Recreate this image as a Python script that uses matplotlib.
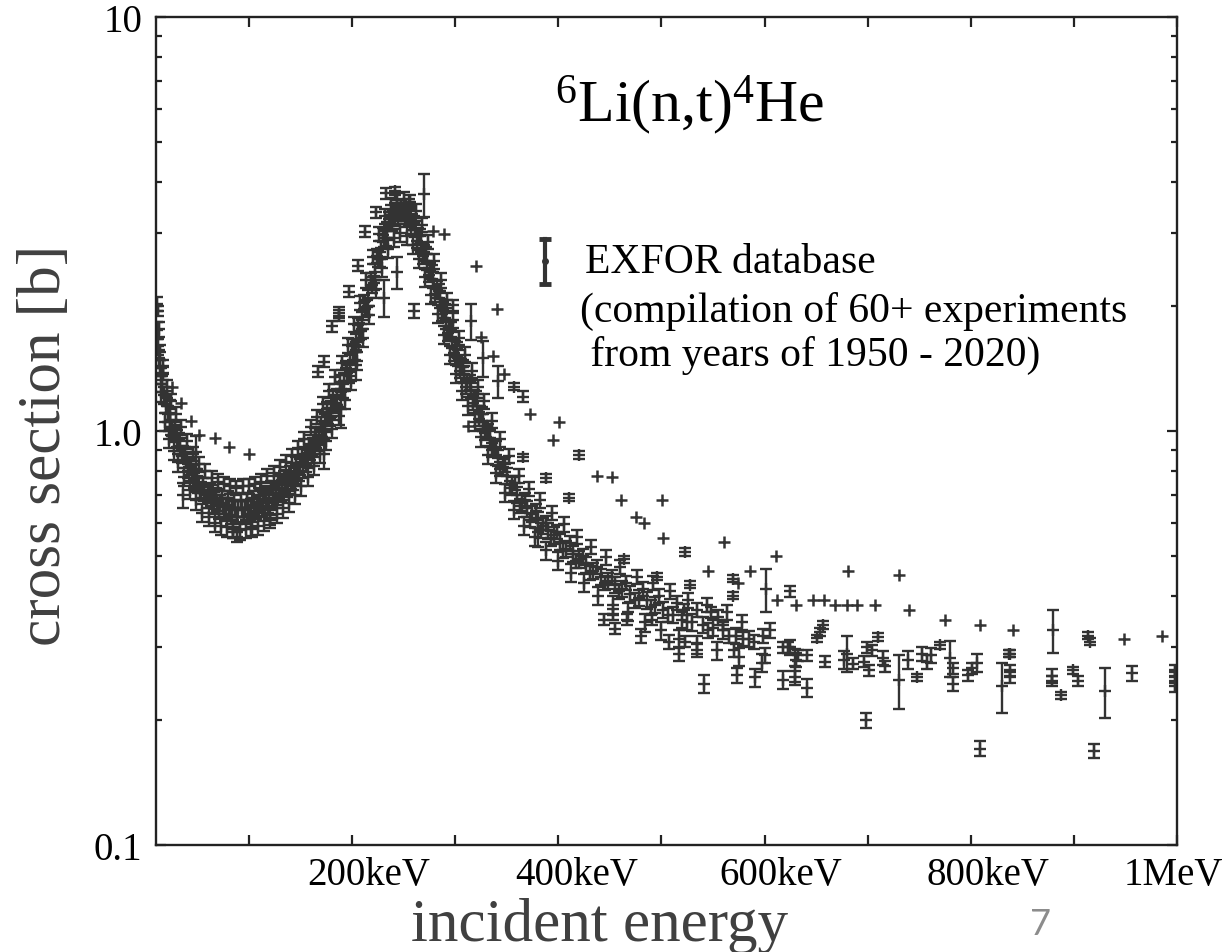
import numpy as np
import matplotlib
matplotlib.use('Agg')
import matplotlib.pyplot as plt
import matplotlib.transforms as mtrans
from matplotlib.ticker import FixedLocator, NullFormatter, LogLocator

plt.rcParams['font.family'] = ['Liberation Serif', 'DejaVu Serif']
plt.rcParams['mathtext.fontset'] = 'custom'
plt.rcParams['mathtext.rm'] = 'Liberation Serif'
plt.rcParams['mathtext.it'] = 'Liberation Serif:italic'
plt.rcParams['mathtext.bf'] = 'Liberation Serif:bold'

# ---- data: energy [keV], cross section [b] ----
# dense band, four groups of experiments
a_e = [11, 12, 13, 14, 15, 16,
       18, 20, 22, 24, 26, 28, 30,
       33, 36, 39, 42, 45, 48, 51, 54, 57, 60,
       63, 66, 69, 72, 75, 78, 81, 84, 87, 90,
       93, 96, 99, 102, 105, 108, 111, 114, 117, 120,
       123, 126, 129, 132, 135, 138, 141, 144, 147, 150,
       153, 156, 159, 162, 165, 168, 171, 174, 177, 180,
       183, 186, 189, 192, 195, 198, 201, 204, 207, 210,
       213, 216, 219, 222, 225, 228, 231, 234, 237, 240,
       243, 246, 249, 252, 255, 258, 261, 264, 267, 270,
       273, 276, 279, 282, 285, 288, 291, 294, 297, 300,
       303, 306, 309, 312, 315, 318, 321, 324, 327, 330,
       334, 338, 342, 346, 350,
       355, 360, 365, 370, 375, 380, 385, 390,
       396, 402, 408, 414, 420,
       427, 434, 441, 448, 455,
       462,
       470, 478, 486, 494, 502,
       511, 520,
       530, 540, 550, 560,
       572, 585]
a_s = [1.75, 1.60, 1.50, 1.42, 1.36, 1.30,
       1.22, 1.16, 1.10, 1.06, 1.02, 0.99, 0.96,
       0.92, 0.88, 0.85, 0.82, 0.79, 0.77, 0.74, 0.72, 0.71, 0.70,
       0.69, 0.68, 0.67, 0.67, 0.66, 0.66, 0.655, 0.65, 0.65, 0.65,
       0.65, 0.65, 0.65, 0.655, 0.66, 0.665, 0.67, 0.68, 0.685, 0.69,
       0.70, 0.71, 0.72, 0.73, 0.74, 0.75, 0.76, 0.78, 0.80, 0.82,
       0.84, 0.86, 0.89, 0.92, 0.95, 0.98, 1.01, 1.05, 1.09, 1.13,
       1.17, 1.21, 1.26, 1.32, 1.38, 1.46, 1.55, 1.64, 1.74, 1.85,
       1.97, 2.10, 2.25, 2.42, 2.60, 2.76, 2.92, 3.06, 3.18, 3.28,
       3.36, 3.40, 3.40, 3.36, 3.30, 3.20, 3.08, 2.96, 2.84, 2.70,
       2.56, 2.44, 2.32, 2.20, 2.08, 1.96, 1.85, 1.75, 1.66, 1.58,
       1.50, 1.43, 1.37, 1.31, 1.25, 1.20, 1.15, 1.10, 1.05, 1.01,
       0.96, 0.91, 0.86, 0.82, 0.78,
       0.74, 0.70, 0.67, 0.65, 0.63, 0.61, 0.59, 0.575,
       0.56, 0.54, 0.52, 0.505, 0.49,
       0.475, 0.46, 0.445, 0.435, 0.425,
       0.415,
       0.405, 0.395, 0.39, 0.38, 0.37,
       0.36, 0.35,
       0.345, 0.34, 0.335, 0.33,
       0.32, 0.315]
a_rel = 0.045

b_e = [12.5, 17, 21, 25, 29, 34, 40, 46, 52, 58,
       64, 70, 76, 82, 88, 94, 100, 106, 112, 118,
       124, 130, 136, 142, 148, 154, 160, 166, 172, 178,
       184, 190, 196, 202, 208, 214, 220, 226, 232, 238,
       244, 250, 256, 262, 268, 274, 280, 286, 292, 298,
       304, 310, 316, 322, 328, 336, 344, 352, 362, 372,
       382, 394, 406, 418, 432, 446, 460, 476, 492, 508,
       526, 544, 564]
b_s = [1.76, 1.43, 1.28, 1.18, 1.10, 1.02, 0.945, 0.88, 0.83, 0.80,
       0.77, 0.755, 0.745, 0.735, 0.73, 0.735, 0.735, 0.745, 0.755, 0.78,
       0.79, 0.82, 0.84, 0.87, 0.91, 0.955, 1.02, 1.08, 1.16, 1.25,
       1.35, 1.46, 1.61, 1.81, 2.04, 2.31, 2.63, 2.99, 3.30, 3.52,
       3.62, 3.64, 3.58, 3.40, 3.15, 2.86, 2.57, 2.31, 2.07, 1.85,
       1.68, 1.53, 1.40, 1.28, 1.18, 1.06, 0.955, 0.87, 0.78, 0.725,
       0.68, 0.635, 0.595, 0.555, 0.525, 0.495, 0.47, 0.445, 0.43, 0.41,
       0.39, 0.38, 0.365]
b_rel = 0.04

c_e = [14.5, 19, 23, 27, 31, 37, 43, 49, 55, 61,
       67, 73, 79, 85, 91, 97, 103, 109, 115, 121,
       127, 133, 139, 145, 151, 157, 163, 169, 175, 181,
       187, 193, 199, 205, 211, 217, 223, 229, 235, 241,
       247, 253, 259, 265, 271, 277, 283, 289, 295, 301,
       307, 313, 319, 325, 332, 340, 348, 357, 367, 377,
       388, 400, 412, 425, 439, 453, 468, 484, 500, 517,
       535, 554, 575, 598]
c_s = [1.24, 1.05, 0.955, 0.895, 0.84, 0.775, 0.72, 0.68, 0.635, 0.62,
       0.60, 0.59, 0.585, 0.58, 0.575, 0.58, 0.585, 0.59, 0.605, 0.615,
       0.63, 0.65, 0.67, 0.70, 0.735, 0.775, 0.825, 0.88, 0.945, 1.01,
       1.09, 1.19, 1.32, 1.48, 1.68, 1.91, 2.20, 2.48, 2.75, 2.93,
       3.01, 2.96, 2.81, 2.60, 2.35, 2.13, 1.92, 1.71, 1.53, 1.375,
       1.25, 1.15, 1.05, 0.965, 0.875, 0.79, 0.71, 0.645, 0.59, 0.555,
       0.515, 0.485, 0.455, 0.43, 0.40, 0.38, 0.365, 0.345, 0.33, 0.315,
       0.305, 0.295, 0.285, 0.275]
c_rel = 0.05

d_e = [13.5, 16.5, 20.5, 24.5, 28.5, 32, 35, 38, 41, 44,
       47, 50, 53, 56, 59, 62, 65, 68, 71, 74,
       77, 80, 83, 86, 89, 92, 95, 98, 101, 104,
       107, 110, 113, 116, 119, 122, 125, 128, 131, 134,
       137, 140, 143, 146, 149, 152, 155, 158, 161, 164,
       167, 170, 173, 176, 179, 182, 185, 188, 191, 194,
       197, 200, 203, 206, 209, 212, 215, 218, 221, 224,
       227, 230, 233, 236, 239, 242, 245, 248, 251, 254,
       257, 260, 263, 266, 269, 272, 275, 278, 281, 284,
       287, 290, 293, 296, 299, 302, 305, 308, 311, 314,
       317, 320, 323, 326, 329, 332, 336, 340, 344, 348,
       353, 358, 363, 368, 373, 378, 383, 388, 393, 399,
       405, 411, 417, 424, 431, 438, 445, 452, 459, 466,
       474, 482, 490, 498, 506, 515, 525, 535, 545, 555,
       566, 578, 590, 605]
d_s = [1.55, 1.38, 1.20, 1.02, 1.01, 0.95, 0.87, 0.88, 0.80, 0.83,
       0.76, 0.78, 0.71, 0.74, 0.68, 0.72, 0.66, 0.70, 0.64, 0.69,
       0.63, 0.69, 0.62, 0.68, 0.62, 0.68, 0.62, 0.68, 0.63, 0.69,
       0.64, 0.70, 0.65, 0.71, 0.66, 0.73, 0.68, 0.75, 0.70, 0.77,
       0.72, 0.79, 0.75, 0.83, 0.79, 0.87, 0.83, 0.92, 0.87, 0.98,
       0.93, 1.04, 1.00, 1.13, 1.07, 1.21, 1.15, 1.31, 1.25, 1.42,
       1.36, 1.60, 1.55, 1.80, 1.74, 2.05, 1.99, 2.32, 2.28, 2.65,
       2.60, 2.98, 2.92, 3.25, 3.16, 3.42, 3.30, 3.48, 3.30, 3.42,
       3.12, 3.18, 2.88, 2.95, 2.64, 2.68, 2.38, 2.42, 2.14, 2.18,
       1.92, 1.95, 1.72, 1.76, 1.54, 1.58, 1.40, 1.43, 1.28, 1.31,
       1.17, 1.20, 1.07, 1.10, 0.99, 1.00, 0.90, 0.91, 0.81, 0.83,
       0.73, 0.75, 0.66, 0.68, 0.61, 0.64, 0.575, 0.60, 0.55, 0.57,
       0.515, 0.535, 0.485, 0.50, 0.455, 0.47, 0.43, 0.445, 0.41, 0.43,
       0.39, 0.415, 0.375, 0.40, 0.36, 0.385, 0.345, 0.37, 0.33, 0.355,
       0.32, 0.345, 0.31, 0.33]
d_rel = 0.04

# scattered points around the low-energy side and the peak (rel. error, 0 = no bar)
peak_e = [11, 11.5, 26, 34, 44, 52, 67, 81, 100, 49,
          36, 24, 89, 85, 102, 121, 189, 173, 206, 204,
          231, 244, 260, 181, 187, 167, 173, 233, 242, 255,
          223, 213, 206, 197, 187, 270, 315, 327, 342, 313,
          380, 298]
peak_s = [2.03, 1.95, 1.28, 1.17, 1.06, 0.98, 0.96, 0.915, 0.88, 0.89,
          0.70, 1.10, 0.555, 0.57, 0.58, 0.61, 1.13, 0.88, 1.60, 1.44,
          2.10, 2.42, 1.95, 1.79, 1.90, 1.39, 1.47, 3.75, 3.80, 3.57,
          3.38, 3.03, 2.51, 2.17, 1.93, 3.73, 1.84, 1.50, 1.32, 1.03,
          0.57, 2.01]
peak_rel = [0.04, 0.03, 0, 0, 0, 0, 0, 0, 0, 0.09,
            0.07, 0.08, 0.03, 0.03, 0.04, 0.03, 0.10, 0.08, 0, 0.08,
            0.10, 0.09, 0.04, 0.03, 0.03, 0.03, 0.03, 0.03, 0.02, 0.02,
            0.03, 0.03, 0.03, 0.03, 0.03, 0.12, 0.10, 0.10, 0.09, 0,
            0.08, 0.03]

# upper branch above the band, right of the peak
up_e = [279, 289, 320, 341, 325, 337, 347, 357, 366, 373,
        395, 401, 420, 438, 452, 461, 501, 475, 483, 502,
        523, 561, 611, 545, 586, 569, 574, 601, 612, 625,
        569, 528, 496, 464, 410, 388, 366, 631, 647, 658,
        668, 680, 690, 707, 681, 730, 740, 775, 809, 841,
        880, 914, 916, 949, 985, 838, 651, 654, 657]
up_s = [3.04, 2.99, 2.50, 1.97, 1.69, 1.52, 1.37, 1.28, 1.21, 1.10,
        0.95, 1.05, 0.875, 0.78, 0.775, 0.68, 0.68, 0.62, 0.60, 0.55,
        0.51, 0.54, 0.50, 0.46, 0.46, 0.44, 0.43, 0.415, 0.39, 0.41,
        0.40, 0.425, 0.445, 0.49, 0.69, 0.77, 0.865, 0.38, 0.39, 0.39,
        0.38, 0.38, 0.38, 0.38, 0.46, 0.45, 0.37, 0.35, 0.34, 0.33,
        0.33, 0.32, 0.31, 0.315, 0.32, 0.29, 0.316, 0.327, 0.34]
up_rel = [0, 0, 0, 0, 0, 0, 0, 0.02, 0.03, 0,
          0, 0, 0.02, 0, 0, 0, 0, 0, 0, 0,
          0.02, 0, 0, 0, 0, 0.02, 0, 0.12, 0, 0.03,
          0.02, 0.02, 0.02, 0.02, 0.02, 0.02, 0.02, 0, 0, 0,
          0, 0, 0, 0, 0, 0, 0, 0, 0, 0,
          0.12, 0.02, 0.02, 0, 0, 0.02, 0.02, 0.02, 0.02]

# lower tail, 450 keV - 1 MeV
tail_e = [444, 453, 455, 467, 480, 491, 507, 517, 523, 535,
          541, 548, 560, 570, 573, 579, 591, 599, 600, 618,
          625, 631, 522, 618, 623, 630, 632, 630, 641, 641,
          659, 677, 680, 686, 696, 699, 701, 704, 710, 715,
          717, 730, 739, 748, 753, 758, 761, 770, 780, 783,
          783, 797, 801, 806, 809, 830, 837, 838, 838, 879,
          879, 887, 899, 904, 919, 930, 956, 998, 998, 998,
          698]
tail_s = [0.35, 0.36, 0.333, 0.35, 0.32, 0.35, 0.31, 0.29, 0.31, 0.296,
          0.245, 0.365, 0.34, 0.296, 0.257, 0.315, 0.254, 0.32, 0.287, 0.25,
          0.30, 0.28, 0.37, 0.30, 0.30, 0.27, 0.287, 0.255, 0.287, 0.24,
          0.277, 0.28, 0.29, 0.274, 0.277, 0.30, 0.264, 0.295, 0.318, 0.283,
          0.27, 0.25, 0.28, 0.254, 0.29, 0.277, 0.287, 0.304, 0.283, 0.267,
          0.245, 0.257, 0.267, 0.275, 0.171, 0.242, 0.29, 0.264, 0.254, 0.256,
          0.249, 0.23, 0.264, 0.249, 0.169, 0.235, 0.26, 0.264, 0.254, 0.242,
          0.20]
tail_rel = [0.03, 0.03, 0.03, 0.03, 0.04, 0.03, 0.04, 0.04, 0.03, 0.04,
            0.05, 0.03, 0.03, 0.04, 0.04, 0.04, 0.05, 0.04, 0.04, 0.05,
            0.04, 0.04, 0.03, 0.03, 0.03, 0.10, 0.03, 0.03, 0.03, 0.05,
            0.03, 0.05, 0.10, 0.03, 0.03, 0.03, 0.03, 0.03, 0.02, 0.04,
            0.03, 0.15, 0.05, 0.02, 0.04, 0.04, 0.04, 0.02, 0.10, 0.03,
            0.04, 0.03, 0.03, 0.05, 0.04, 0.14, 0.02, 0.03, 0.03, 0.04,
            0.03, 0.02, 0.02, 0.03, 0.04, 0.14, 0.04, 0.03, 0.03, 0.03,
            0.04]

x_ticks = [100, 200, 300, 400, 500, 600, 700, 800, 900, 1000]
x_labels = ['', '200keV', '', '400keV', '', '600keV', '', '800keV', '', '1MeV']
y_ticks = [0.1, 1.0, 10]
y_labels = ['0.1', '1.0', '10']

col = '#333333'

fig = plt.figure(figsize=(12.31, 9.53), dpi=100)
ax = fig.add_axes([0.1267, 0.1123, 0.8295, 0.8688])


def draw(e, s, rel):
    e = np.asarray(e, float)
    s = np.asarray(s, float)
    rel = np.broadcast_to(np.asarray(rel, float), s.shape)
    bar = rel > 0
    if bar.any():
        ax.errorbar(e[bar], s[bar], yerr=s[bar] * rel[bar], fmt='+', color=col,
                    ms=8, mew=1.7, elinewidth=1.7, capsize=4.5, capthick=1.7)
    if (~bar).any():
        ax.plot(e[~bar], s[~bar], '+', color=col, ms=8, mew=1.8)


draw(a_e, a_s, a_rel)
draw(b_e, b_s, b_rel)
draw(c_e, c_s, c_rel)
draw(d_e, d_s, d_rel)
draw(peak_e, peak_s, peak_rel)
draw(up_e, up_s, up_rel)
draw(tail_e, tail_s, tail_rel)

ax.set_yscale('log')
ax.set_xlim(10, 1000)
ax.set_ylim(0.1, 10)

ax.xaxis.set_major_locator(FixedLocator(x_ticks))
ax.set_xticklabels(x_labels)
ax.yaxis.set_major_locator(FixedLocator(y_ticks))
ax.set_yticklabels(y_labels)
ax.yaxis.set_minor_locator(LogLocator(base=10, subs=range(2, 10)))
ax.yaxis.set_minor_formatter(NullFormatter())

ax.tick_params(which='both', direction='in', top=True, right=True,
               width=1.6, colors='#222222', labelcolor='black')
ax.tick_params(which='major', length=7)
ax.tick_params(which='minor', length=4.5)
ax.tick_params(axis='x', labelsize=28, pad=8)
ax.tick_params(axis='y', labelsize=28, pad=10)
for sp in ax.spines.values():
    sp.set_linewidth(1.7)
    sp.set_color('#222222')

# tick labels sit a bit right of their ticks in the original
shifts = [0, 17, 0, 18, 0, 16, 0, 17, 0, -4]
for tick, dx in zip(ax.xaxis.get_major_ticks(), shifts):
    tick.label1.set_transform(tick.label1.get_transform() +
                              mtrans.ScaledTranslation(dx / 100, 0, fig.dpi_scale_trans))

ax.text(0.523, 0.895, r'$^{6}$Li(n,t)$^{4}$He', transform=ax.transAxes,
        fontsize=43, ha='center', va='center')

# legend drawn by hand
lx, ly0, ly1 = 0.381, 0.678, 0.732
ax.plot([lx, lx], [ly0, ly1], transform=ax.transAxes, color=col, lw=3, clip_on=False)
ax.plot([lx, lx], [ly0, ly1], '_', transform=ax.transAxes, color=col, ms=9, mew=3.5)
ax.plot([lx], [(ly0 + ly1) / 2], 'o', transform=ax.transAxes, color=col, ms=4)
ax.text(0.42, 0.705, 'EXFOR database', transform=ax.transAxes, fontsize=30, va='center')
ax.text(0.415, 0.645, '(compilation of 60+ experiments', transform=ax.transAxes,
        fontsize=30, va='center')
ax.text(0.415, 0.593, ' from years of 1950 - 2020)', transform=ax.transAxes,
        fontsize=30, va='center')

fig.text(45 / 1231, 1 - 445 / 953, 'cross section [b]', rotation=90, fontsize=44,
         color='#404040', ha='center', va='center')
fig.text(600 / 1231, 1 - 926 / 953, 'incident energy', fontsize=44,
         color='#404040', ha='center', va='center')
fig.text(1040 / 1231, 1 - 925 / 953, '7', fontsize=26, color='#8c8c8c',
         family=['Lato', 'DejaVu Sans'], ha='center', va='center')

fig.savefig('out.png', dpi=100)
